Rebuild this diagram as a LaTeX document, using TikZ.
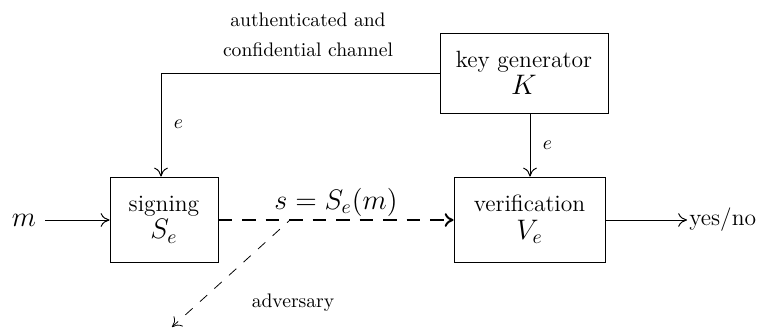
\documentclass[tikz,border=0pt]{standalone}
\usetikzlibrary{arrows.meta}
\begin{document}
\begin{tikzpicture}[x=0.51pt,y=-0.51pt,
  tip/.tip={Computer Modern Rightarrow[length=4.5pt,width=7pt]},
  blk/.style={draw,line width=0.5pt,inner sep=0pt,align=center,font=\large},
  conn/.style={-tip,line width=0.5pt},
  lbl/.style={inner sep=1pt}]
\useasboundingbox (0,0) rectangle (762,329);
% boxes
\node[blk,minimum width=108*0.51pt,minimum height=85*0.51pt] (sig) at (164,219.5) {signing\\[0pt]{\Large $S_e$}};
\node[blk,minimum width=151*0.51pt,minimum height=85*0.51pt] (ver) at (529.5,219.5) {verification\\[0pt]{\Large $V_e$}};
\node[blk,minimum width=168*0.51pt,minimum height=80*0.51pt] (key) at (524,73) {key generator\\[0pt]{\Large $K$}};
% texts
\node[lbl] (m) at (24,220) {\Large $m$};
\node[lbl,anchor=west] (yn) at (687,220) {\large yes/no};
\node[lbl,align=center] (ch) at (308,35) {authenticated and\\[3pt]confidential channel};
\node[lbl] (s) at (336,202) {\Large $s=S_e(m)$};
\node[lbl] (adv) at (293,303) {adversary};
\coordinate (c1) at (161,73);
\coordinate (kb) at (530,113);
\coordinate (mr) at (45,220);
\coordinate (madv) at (290,220);
\coordinate (tadv) at (172,327);
% connectors
\draw[conn] (key.west |- c1) -- (c1) -- (c1 |- sig.north) node[pos=0.5,right,xshift=3pt] {$e$};
\draw[conn] (key.south -| kb) -- (kb |- ver.north) node[pos=0.5,right,xshift=3pt] {$e$};
\draw[conn] (mr) -- (sig.west |- mr);
\draw[-tip,line width=1pt,dash pattern=on 7pt off 5pt] (sig.east |- mr) -- (ver.west |- mr);
\draw[-tip,line width=0.4pt,dash pattern=on 5pt off 5pt,dash phase=3pt] (madv) -- (tadv);
\draw[conn] (ver.east |- mr) -- (yn.west);
\end{tikzpicture}
\end{document}
